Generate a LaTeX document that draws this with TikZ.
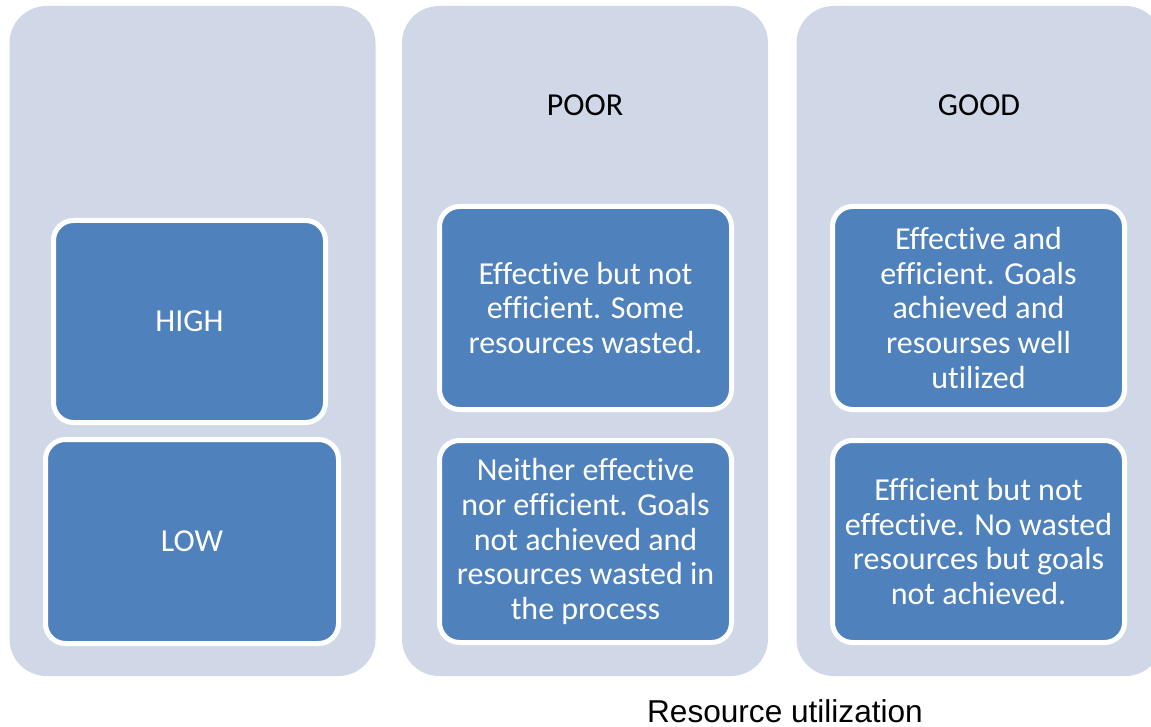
\documentclass[tikz,border=0pt]{standalone}
\usepackage{fontspec}
\setmainfont{Carlito}[Ligatures=NoCommon]
\newfontfamily\arialf{Liberation Sans}
\definecolor{colbg}{RGB}{208,216,232}
\definecolor{boxblue}{RGB}{79,129,189}
\tikzset{
  column/.style={fill=colbg, rounded corners=37pt, inner sep=0pt, minimum width=366pt, minimum height=670pt},
  cell/.style={fill=boxblue, draw=white, line width=5pt, rounded corners=20pt, inner sep=0pt,
    text=white, align=center, font=\fontsize{32}{34.7}\selectfont},
  head/.style={text=black, font=\fontsize{32}{34.7}\selectfont, inner sep=0pt},
  axis/.style={text=black, font=\arialf\fontsize{31.6}{36}\selectfont, inner sep=0pt, anchor=base, text depth=0pt}
}
\begin{document}
\begin{tikzpicture}[x=1pt,y=-1pt]
\useasboundingbox (0,0) rectangle (1151,727);
\clip (0,0) rectangle (1151,727);
% columns
\node[column] (c1) at (192.5,341) {};
\node[column] (c2) at (585,341) {};
\node[column] (c3) at (979.5,341) {};
% headers
\node[head] (poor) at (585,105) {POOR};
\node[head] (good) at (979,105) {GOOD};
% left column
\node[cell, minimum width=272pt, minimum height=202pt] (high) at (189.5,321.5) {HIGH};
\node[cell, minimum width=293pt, minimum height=204pt] (low) at (192,541.5) {LOW};
% middle column
\node[cell, minimum width=292pt, minimum height=203pt] (ebne) at (585.5,308) {Effective but not\\efficient. Some\\resources wasted.};
\node[cell, minimum width=292pt, minimum height=202pt] (nene) at (585.5,541.5) {Neither effective\\nor efficient. Goals\\not achieved and\\resources wasted in\\the process};
% right column
\node[cell, minimum width=292pt, minimum height=203pt] (eae) at (978.5,308) {Effective and\\efficient. Goals\\achieved and\\resourses well\\utilized};
\node[cell, minimum width=292pt, minimum height=202pt] (enbe) at (978.5,541.5) {Efficient but not\\effective. No wasted\\resources but goals\\not achieved.};
% axis label
\node[axis] (ru) at (785,722.5) {Resource utilization};
\end{tikzpicture}
\end{document}
